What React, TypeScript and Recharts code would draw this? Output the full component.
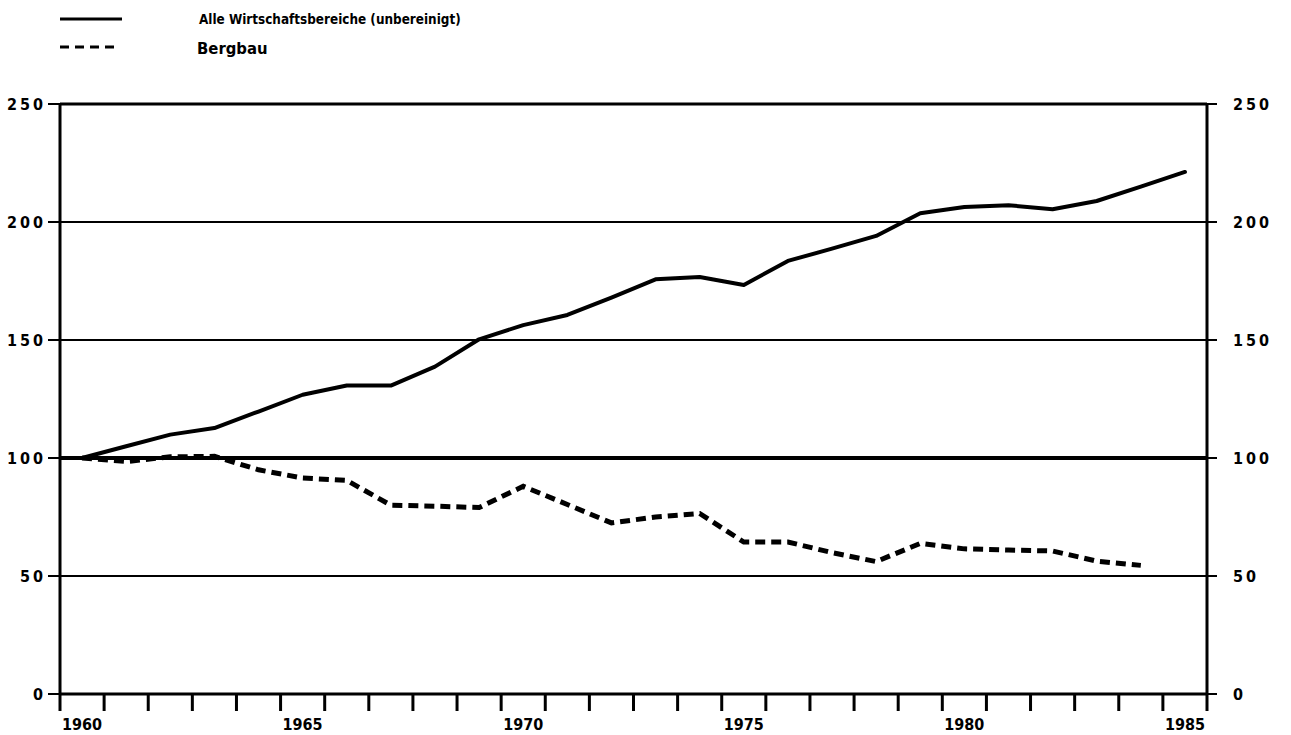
import { LineChart, Line, XAxis, YAxis, ReferenceLine } from "recharts";

const years = [
  1960, 1961, 1962, 1963, 1964, 1965, 1966, 1967, 1968, 1969, 1970, 1971, 1972,
  1973, 1974, 1975, 1976, 1977, 1978, 1979, 1980, 1981, 1982, 1983, 1984, 1985,
];
const alleBereiche = [
  100, 105, 109.9, 112.7, 119.7, 126.8, 130.7, 130.7, 138.7, 150.3, 156.3, 160.6, 168,
  175.7, 176.7, 173.3, 183.5, 188.7, 194.1, 203.7, 206.4, 207.1, 205.4, 208.9, 215, 221.2,
];
const bergbau = [
  100, 98.5, 100.5, 100.7, 95, 91.5, 90.5, 80, 79.6, 79, 88, 80.3, 72.5,
  75, 76.5, 64.4, 64.4, 59.9, 56.1, 63.8, 61.5, 61, 60.6, 56.3, 54.5, null,
];
const yTicks = [0, 50, 100, 150, 200, 250];
const xTicks = [
  1960, 1961, 1962, 1963, 1964, 1965, 1966, 1967, 1968, 1969, 1970, 1971, 1972, 1973,
  1974, 1975, 1976, 1977, 1978, 1979, 1980, 1981, 1982, 1983, 1984, 1985, 1986,
];
const xLabels = [1960, 1965, 1970, 1975, 1980, 1985];
const gridLines = [50, 150, 200];

const legendLabels = ["Alle Wirtschaftsbereiche (unbereinigt)", "Bergbau"];

// points sit in the middle of each year
const data = years.map((y, i) => ({ x: y + 0.5, alle: alleBereiche[i], berg: bergbau[i] }));

const FONT = "'DejaVu Sans Condensed', 'DejaVu Sans', sans-serif";

const XTick = (props: any) => {
  const { x, y, payload } = props;
  if (!xLabels.includes(payload.value)) return null;
  return (
    <text x={x + 2} y={y} dy={17} fontFamily={FONT} fontWeight="bold" fontSize={16} fill="#000" textAnchor="start">
      {payload.value}
    </text>
  );
};

const LeftTick = (props: any) => {
  const { x, y, payload } = props;
  return (
    <text x={x} y={y} dy={6} fontFamily={FONT} fontWeight="bold" fontSize={16} letterSpacing={3} fill="#000" textAnchor="end">
      {payload.value}
    </text>
  );
};

const RightTick = (props: any) => {
  const { x, y, payload } = props;
  return (
    <text x={x + 14} y={y} dy={6} fontFamily={FONT} fontWeight="bold" fontSize={16} letterSpacing={3} fill="#000" textAnchor="start">
      {payload.value}
    </text>
  );
};

export default function App() {
  return (
    <div style={{ position: "absolute", left: 0, top: 0, width: 1291, height: 735, background: "#fff" }}>
      <svg width={1291} height={70} style={{ position: "absolute", left: 0, top: 0 }}>
        <line x1={60} y1={19} x2={122} y2={19} stroke="#000" strokeWidth={3} />
        <line x1={60} y1={47} x2={120} y2={47} stroke="#000" strokeWidth={3} strokeDasharray="9 6" />
        <text x={199} y={24} fontFamily={FONT} fontWeight="bold" fontSize={13.4} fill="#000">
          {legendLabels[0]}
        </text>
        <text x={197} y={54} fontFamily={FONT} fontWeight="bold" fontSize={16.5} fill="#000">
          {legendLabels[1]}
        </text>
      </svg>
      <LineChart width={1291} height={735} data={data} margin={{ top: 104, right: 0, bottom: 0, left: 0 }}>
        <XAxis
          type="number"
          dataKey="x"
          domain={[1960, 1986]}
          ticks={xTicks}
          interval={0}
          height={41}
          tickSize={17}
          axisLine={{ stroke: "#000", strokeWidth: 3 }}
          tickLine={{ stroke: "#000", strokeWidth: 3 }}
          tick={<XTick />}
        />
        <YAxis
          yAxisId="l"
          domain={[0, 250]}
          ticks={yTicks}
          width={60}
          tickSize={12}
          axisLine={{ stroke: "#000", strokeWidth: 3 }}
          tickLine={{ stroke: "#000", strokeWidth: 2 }}
          tick={<LeftTick />}
        />
        <YAxis
          yAxisId="r"
          orientation="right"
          domain={[0, 250]}
          ticks={yTicks}
          width={84}
          tickSize={10}
          axisLine={{ stroke: "#000", strokeWidth: 3 }}
          tickLine={{ stroke: "#000", strokeWidth: 2 }}
          tick={<RightTick />}
        />
        {gridLines.map((v) => (
          <ReferenceLine key={v} yAxisId="l" y={v} stroke="#000" strokeWidth={2} />
        ))}
        <ReferenceLine yAxisId="l" y={250} stroke="#000" strokeWidth={3} />
        <ReferenceLine yAxisId="l" y={100} stroke="#000" strokeWidth={4} />
        {/* invisible series so the right axis gets drawn */}
        <Line
          yAxisId="r"
          type="linear"
          dataKey="alle"
          stroke="none"
          strokeOpacity={0}
          dot={false}
          activeDot={false}
          legendType="none"
          isAnimationActive={false}
        />
        <Line
          yAxisId="l"
          type="linear"
          dataKey="alle"
          stroke="#000"
          strokeWidth={4}
          dot={false}
          strokeLinecap="round"
          strokeLinejoin="round"
          isAnimationActive={false}
        />
        <Line
          yAxisId="l"
          type="linear"
          dataKey="berg"
          stroke="#000"
          strokeWidth={5}
          strokeDasharray="10 6"
          dot={false}
          isAnimationActive={false}
        />
      </LineChart>
    </div>
  );
}
